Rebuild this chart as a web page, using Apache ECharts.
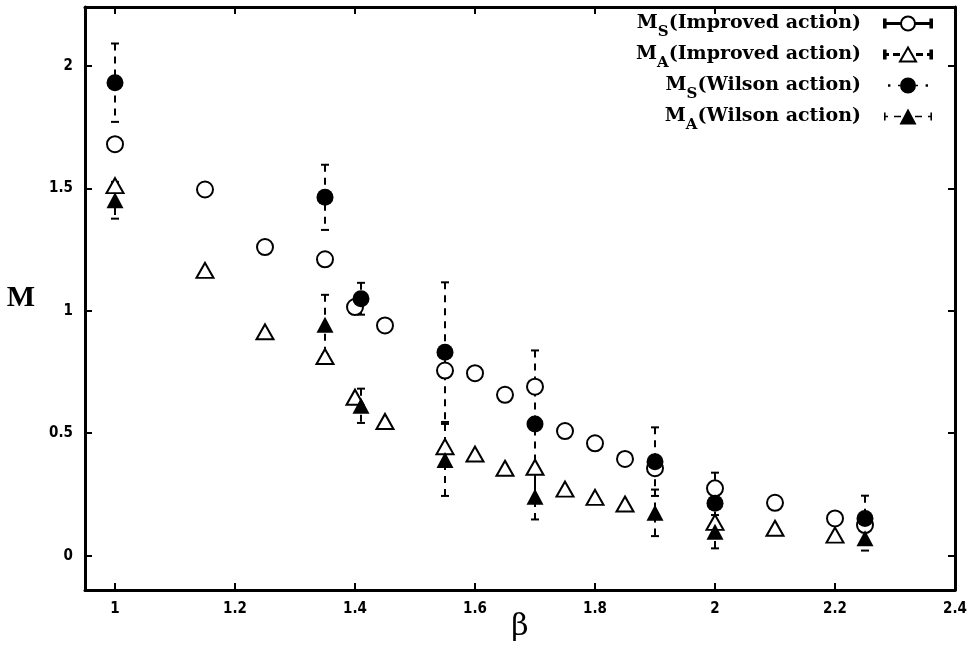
<!DOCTYPE html>
<html>
<head>
<meta charset="utf-8">
<script src="https://cdn.jsdelivr.net/npm/echarts@6/dist/echarts.min.js"></script>
<style>
html, body { margin: 0; background: #fff; }
#container { width: 970px; height: 656px; }
</style>
</head>
<body>
<div id="container"></div>
<script>
// beta values and masses
var betaMsImp = [1, 1.15, 1.25, 1.35, 1.40, 1.45, 1.55, 1.60, 1.65, 1.70, 1.75, 1.80, 1.85, 1.90, 2.0, 2.1, 2.2, 2.25];
var msImp     = [1.68, 1.495, 1.26, 1.21, 1.015, 0.94, 0.756, 0.745, 0.657, 0.69, 0.509, 0.459, 0.395, 0.357, 0.275, 0.216, 0.152, 0.125];

var betaMaImp = [1, 1.15, 1.25, 1.35, 1.40, 1.45, 1.55, 1.60, 1.65, 1.70, 1.75, 1.80, 1.85, 2.0, 2.1, 2.2];
var maImp     = [1.511, 1.165, 0.914, 0.813, 0.647, 0.548, 0.445, 0.415, 0.357, 0.361, 0.272, 0.238, 0.211, 0.136, 0.112, 0.084];

var betaWil = [1, 1.35, 1.41, 1.55, 1.70, 1.90, 2.0, 2.25];
var msWil    = [1.931, 1.463, 1.049, 0.831, 0.538, 0.384, 0.214, 0.152];
var msWilErr = [0.16, 0.133, 0.065, 0.285, 0.30, 0.14, 0.125, 0.093];
var maWil    = [1.451, 0.943, 0.612, 0.391, 0.241, 0.175, 0.098, 0.071];
var maWilErr = [0.075, 0.122, 0.07, 0.147, 0.093, 0.095, 0.068, 0.05];

var xTicks = [1, 1.2, 1.4, 1.6, 1.8, 2, 2.2, 2.4];
var yTicks = [0, 0.5, 1, 1.5, 2];

function pairs(xs, ys) {
    return xs.map(function (x, i) { return [x, ys[i]]; });
}
function triples(xs, ys, es) {
    return xs.map(function (x, i) { return [x, ys[i], es[i]]; });
}

function errRender(params, api) {
    var x = api.value(0), y = api.value(1), e = api.value(2);
    var top = api.coord([x, y + e]);
    var bot = api.coord([x, y - e]);
    var c = 4;
    var solid = { stroke: '#000', lineWidth: 2 };
    return {
        type: 'group',
        children: [
            { type: 'line', shape: { x1: top[0], y1: top[1], x2: bot[0], y2: bot[1] },
              style: { stroke: '#000', lineWidth: 2, lineDash: [7, 6] } },
            { type: 'line', shape: { x1: top[0] - c, y1: top[1], x2: top[0] + c, y2: top[1] }, style: solid },
            { type: 'line', shape: { x1: bot[0] - c, y1: bot[1], x2: bot[0] + c, y2: bot[1] }, style: solid }
        ]
    };
}

// legend icons: marker with error-bar whiskers (48 x 16 box)
var capL = 'M0 4h1.6v8h-1.6Z', capR = 'M46.4 4h1.6v8h-1.6Z';
var iconCircleSolid = 'path://' + capL + capR + 'M0 7.4h17v1.2h-17Z M31 7.4h17v1.2h-17Z' +
    'M31 8A7 7 0 1 1 17 8A7 7 0 1 1 31 8Z';
var iconTriDash = 'path://' + capL + capR + 'M0 7.4h4v1.2h-4Z M10 7.4h5v1.2h-5Z M33 7.4h5v1.2h-5Z M44 7.4h4v1.2h-4Z' +
    'M24 1L32 15L16 15Z';
var iconCircleDot = 'path://M4 6.8h2.4v2.4h-2.4Z M41.6 6.8h2.4v2.4h-2.4Z M14 7.2h2v1.6h-2Z M32 7.2h2v1.6h-2Z' +
    'M32 8A8 8 0 1 1 16 8A8 8 0 1 1 32 8Z';
var iconTriSolid = 'path://' + capL + capR + 'M0 7.2h4v1.6h-4Z M10 7.2h7v1.6h-7Z M31 7.2h7v1.6h-7Z M44 7.2h4v1.6h-4Z' +
    'M24 0L32.5 16L15.5 16Z';

var tickFont = { fontFamily: '"Liberation Sans Narrow", "DejaVu Sans Condensed", "Liberation Sans", sans-serif',
                 fontWeight: 'bold', fontSize: 15, color: '#000' };
var axLine = { show: true, onZero: false, lineStyle: { color: '#000', width: 3 } };
var axTick = { inside: true, length: 7, lineStyle: { color: '#000', width: 2 } };

var serif = '"DejaVu Serif", serif';
var rich = {
    m: { fontFamily: serif, fontWeight: 'bold', fontSize: 19, color: '#000' },
    s: { fontFamily: serif, fontWeight: 'bold', fontSize: 15, color: '#000', padding: [18, 0, 0, 0] },
    t: { fontFamily: serif, fontWeight: 'bold', fontSize: 19, color: '#000' }
};
var names = {
    'MS(Improved action)': '{m|M}{s|S}{t|(Improved action)}',
    'MA(Improved action)': '{m|M}{s|A}{t|(Improved action)}',
    'MS(Wilson action)': '{m|M}{s|S}{t|(Wilson action)}',
    'MA(Wilson action)': '{m|M}{s|A}{t|(Wilson action)}'
};

var chart = echarts.init(document.getElementById('container'));
chart.setOption({
    animation: false,
    backgroundColor: '#fff',
    grid: { left: 85, right: 15, top: 7, bottom: 66, outerBoundsMode: 'none', containLabel: false },
    legend: {
        orient: 'vertical',
        right: 32,
        top: 9,
        align: 'right',
        itemGap: 5,
        itemWidth: 48,
        itemHeight: 16,
        data: [
            { name: 'MS(Improved action)', icon: iconCircleSolid },
            { name: 'MA(Improved action)', icon: iconTriDash },
            { name: 'MS(Wilson action)', icon: iconCircleDot },
            { name: 'MA(Wilson action)', icon: iconTriSolid }
        ],
        formatter: function (n) { return names[n]; },
        textStyle: { rich: rich, padding: [0, 18, 0, 0] }
    },
    xAxis: [{
        type: 'value', min: 0.95, max: 2.4,
        name: 'β', nameLocation: 'middle', nameGap: 22, nameMoveOverlap: false,
        nameTextStyle: { fontFamily: serif, fontSize: 30, color: '#000' },
        axisLine: axLine,
        axisTick: Object.assign({ customValues: xTicks }, axTick),
        axisLabel: Object.assign({ customValues: xTicks, margin: 12 }, tickFont),
        splitLine: { show: false }
    }, {
        type: 'value', position: 'top', min: 0.95, max: 2.4,
        axisLine: axLine,
        axisTick: Object.assign({ customValues: xTicks }, axTick),
        axisLabel: { show: false },
        splitLine: { show: false }
    }],
    yAxis: [{
        type: 'value', min: -0.14, max: 2.24,
        name: 'M', nameLocation: 'middle', nameGap: 50, nameRotate: 0, nameMoveOverlap: false,
        nameTextStyle: { fontFamily: '"Liberation Serif", serif', fontWeight: 'bold', fontSize: 30, color: '#000' },
        axisLine: axLine,
        axisTick: Object.assign({ customValues: yTicks }, axTick),
        axisLabel: Object.assign({ customValues: yTicks, margin: 12 }, tickFont),
        splitLine: { show: false }
    }, {
        type: 'value', position: 'right', min: -0.14, max: 2.24,
        axisLine: axLine,
        axisTick: Object.assign({ customValues: yTicks }, axTick),
        axisLabel: { show: false },
        splitLine: { show: false }
    }],
    series: [{
        type: 'custom', name: 'errMS', renderItem: errRender, z: 1,
        encode: { x: 0, y: 1 }, data: triples(betaWil, msWil, msWilErr)
    }, {
        type: 'custom', name: 'errMA', renderItem: errRender, z: 1,
        encode: { x: 0, y: 1 }, data: triples(betaWil, maWil, maWilErr)
    }, {
        name: 'MS(Improved action)', type: 'scatter', symbol: 'circle', symbolSize: 16, z: 3,
        itemStyle: { color: '#fff', borderColor: '#000', borderWidth: 2, opacity: 1 },
        data: pairs(betaMsImp, msImp)
    }, {
        name: 'MA(Improved action)', type: 'scatter', symbol: 'triangle', symbolSize: [17, 15], z: 3,
        itemStyle: { color: '#fff', borderColor: '#000', borderWidth: 2, opacity: 1 },
        data: pairs(betaMaImp, maImp)
    }, {
        name: 'MS(Wilson action)', type: 'scatter', symbol: 'circle', symbolSize: 17, z: 4,
        itemStyle: { color: '#000', opacity: 1 },
        data: pairs(betaWil, msWil)
    }, {
        name: 'MA(Wilson action)', type: 'scatter', symbol: 'triangle', symbolSize: [17, 16], z: 4,
        itemStyle: { color: '#000', opacity: 1 },
        data: pairs(betaWil, maWil)
    }]
});
</script>
</body>
</html>
